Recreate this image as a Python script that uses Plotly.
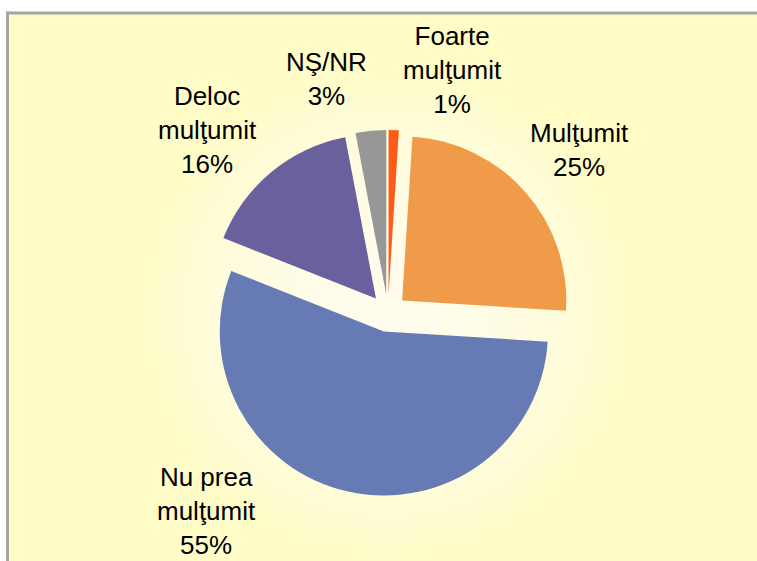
import plotly.graph_objects as go

# ---- data ----
categories = ["Foarte mulţumit", "Mulţumit", "Nu prea mulţumit", "Deloc mulţumit", "NŞ/NR"]
label_lines = [["Foarte", "mulţumit"], ["Mulţumit"], ["Nu prea", "mulţumit"], ["Deloc", "mulţumit"], ["NŞ/NR"]]
values = [1, 25, 55, 16, 3]
colors = ["#FF5A17", "#F09B4A", "#667BB4", "#6B609E", "#979797"]

W, H = 757, 561

def px(x):
    return x / W

def py(y):
    return 1 - y / H

# label block centres (pixels)
label_pos = [(452, 70), (579, 150), (206, 511), (207, 130), (326, 79)]

fig = go.Figure(go.Pie(
    labels=categories,
    values=values,
    sort=False,
    direction="clockwise",
    rotation=0,
    pull=[0.115] * len(values),
    marker=dict(colors=colors, line=dict(width=0)),
    textinfo="none",
    showlegend=False,
    domain=dict(x=[px(205), px(571)], y=[py(496), py(130)]),
))

shapes = [dict(type="rect", xref="paper", yref="paper", layer="below",
               x0=px(7.5), x1=1.0, y0=0.0, y1=py(13),
               fillcolor="#FFFCC8", line=dict(width=0))]
cx, cy = 388, 313
for i in range(18):
    r = 240 - i * 13
    shapes.append(dict(type="circle", xref="paper", yref="paper", layer="below",
                       x0=px(cx - r), x1=px(cx + r), y0=py(cy + r), y1=py(cy - r),
                       fillcolor="rgba(255,255,255,0.08)", line=dict(width=0)))
# panel border: left and top edges only
shapes.append(dict(type="line", xref="paper", yref="paper", layer="below",
                   x0=px(7.5), x1=px(7.5), y0=0.0, y1=py(11.5),
                   line=dict(color="#A6A6A6", width=3)))
shapes.append(dict(type="line", xref="paper", yref="paper", layer="below",
                   x0=px(6), x1=1.0, y0=py(13), y1=py(13),
                   line=dict(color="#A6A6A6", width=3)))

annotations = []
for lines, v, (x, y) in zip(label_lines, values, label_pos):
    annotations.append(dict(
        text="<br>".join(lines + [f"{v}%"]),
        x=px(x), y=py(y), xref="paper", yref="paper",
        xanchor="center", yanchor="middle", showarrow=False, align="center",
        font=dict(family="Liberation Sans, Arial, sans-serif", size=26, color="#000000"),
    ))

fig.update_layout(
    width=W, height=H, autosize=False,
    margin=dict(l=0, r=0, t=0, b=0),
    paper_bgcolor="#FFFFFF",
    shapes=shapes,
    annotations=annotations,
)

fig.write_html(
    "out.html",
    config={"displayModeBar": False},
    post_script=(
        "document.documentElement.style.overflow='hidden';"
        "document.body.style.margin='0';document.body.style.padding='0';"
        "document.body.style.overflow='hidden';"
    ),
)
